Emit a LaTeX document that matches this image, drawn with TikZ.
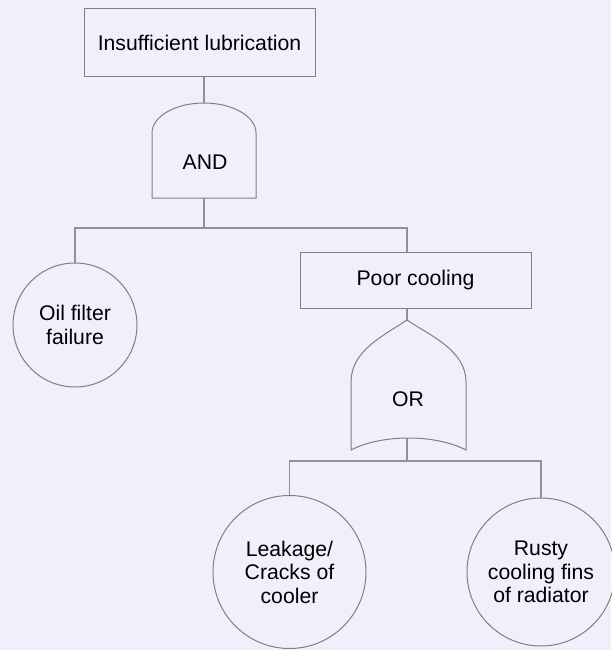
\documentclass[tikz,border=0pt]{standalone}
\usepackage{fontspec}
\setmainfont{Liberation Sans}
\definecolor{bg}{RGB}{240,240,252}
\definecolor{edgec}{RGB}{128,128,128}
\definecolor{wirec}{RGB}{145,145,145}
\begin{document}
\begin{tikzpicture}[x=1pt,y=-1pt,
 lbl/.style={font=\fontsize{21.2}{23.5}\selectfont, align=center, text=black},
 eventbox/.style={lbl, draw=edgec, line width=1pt, inner sep=0pt},
 basic/.style={lbl, circle, draw=edgec, line width=1pt, inner sep=0pt},
 gateshape/.style={draw=edgec, line width=1pt},
 wire/.style={draw=wirec, line width=1.8pt}]
\fill[bg] (0,0) rectangle (611,650);
\useasboundingbox (0,0) rectangle (611,650);

% events
\node[eventbox, minimum width=231pt, minimum height=68pt] (top) at (199.5,42.5) {Insufficient lubrication};
\node[eventbox, minimum width=231pt, minimum height=56pt] (poor) at (415.5,280) {Poor cooling};
\node[basic, minimum size=124pt] (oil) at (75,325) {Oil filter\\failure};
\node[basic, minimum size=153pt] (leak) at (289.5,572) {Leakage/\\Cracks of\\cooler};
\node[basic, minimum size=148pt] (rusty) at (541,572) {Rusty\\cooling fins\\of radiator};

% gates
\coordinate (andtop) at (204,103);
\coordinate (andbot) at (204,198);
\coordinate (ortop) at (407,320);
\coordinate (orbot) at (407,438);
\coordinate (split1) at (204,228);
\coordinate (split2) at (407,461);

\draw[gateshape] (152,198) -- (152,133) .. controls (152,116.4) and (175.3,103) .. (andtop)
  .. controls (232.7,103) and (256,116.4) .. (256,133) -- (256,198) -- cycle;
\node[lbl] (andg) at (205,162) {AND};

\draw[gateshape] (351,450) -- (351,382) .. controls (351,350) and (385,335) .. (ortop)
  .. controls (429,335) and (466,350) .. (466,382) -- (466,450)
  .. controls (435,434) and (382,434) .. (351,450) -- cycle;
\node[lbl] (org) at (408,399) {OR};

% connectors
\draw[wire] (andtop |- top.south) -- (andtop);
\draw[wire] (andbot) -- (split1);
\draw[wire] (split1) -| (oil.north);
\draw[wire] (split1) -| (ortop |- poor.north);
\draw[wire] (ortop |- poor.south) -- (ortop);
\draw[wire] (orbot) -- (split2);
\draw[wire] (split2) -| (leak.north);
\draw[wire] (split2) -| (rusty.north);
\end{tikzpicture}
\end{document}
